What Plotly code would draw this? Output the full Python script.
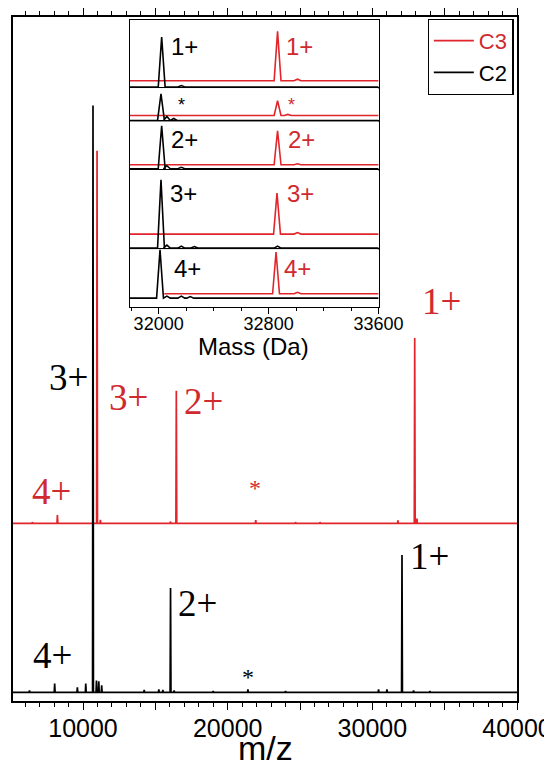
import plotly.graph_objects as go

RED = "#e0252b"
RED_TXT = "#d02a2f"
SANS = "Liberation Sans"
SERIF = "Liberation Serif"

# ---- main spectrum (relative intensity, C2 3+ peak = 100) ----
c2_mz = [6300, 8040, 9610, 10190, 10690, 10930, 11090, 11290, 14230, 15240,
         15520, 16050, 16300, 19000, 21400, 24000, 30430, 31010, 32050, 32850, 33980]
c2_int = [0.3, 1.5, 0.85, 1.5, 100, 2.0, 1.9, 1.2, 0.4, 0.5,
          0.4, 17.8, 0.3, 0.2, 0.5, 0.2, 0.5, 0.5, 23.4, 0.3, 0.2]

c3_mz = [6500, 8230, 10970, 11200, 16050, 16450, 21940, 24700, 26380, 31770, 32930, 33080]
c3_int = [0.2, 1.4, 63.5, 0.6, 0.3, 22.6, 0.56, 0.2, 0.2, 0.5, 31.6, 0.8]
c3_offset = 28.8

mz_range = [5160, 40000]
y_range = [-1.48, 115.1]

# ---- inset: deconvoluted mass, one panel per charge state (top to bottom) ----
panel_names = ["1+", "*", "2+", "3+", "4+"]
c2_mass = [[32022, 32165],
           [32017, 32060, 32110],
           [32022, 32060, 32165],
           [32017, 32060, 32165, 32260, 32865],
           [32010, 32060, 32165, 32230]]
c2_mass_int = [[50, 1.5],
               [26.7, 4, 2],
               [43, 3, 1.5],
               [68.3, 3, 2, 1.5, 2],
               [48.3, 2, 2, 1.5]]
c3_mass = [[32865, 33010],
           [32865, 32940],
           [32865, 33010],
           [32861, 33010],
           [32854, 33010]]
c3_mass_int = [[49.3, 1.5],
               [14.7, 1],
               [34, 1],
               [41, 1.5],
               [41.7, 1.5]]
c3_mass_offset = [6.3, 5, 4, 14, 4.3]
c3_mass_start = [31790, 31790, 31790, 31790, 32041]
panel_yrange = [[-1, 67.3], [-1, 32.4], [-1, 47.3], [-1, 78.3], [-8.4, 49]]
mass_range = [31790, 33600]


def stick_line(mz, inten, offset, xmin, xmax, half):
    xs, ys = [xmin], [offset]
    for m, h in sorted(zip(mz, inten)):
        xs += [m - half, m, m + half]
        ys += [offset, offset + h, offset]
    xs.append(xmax)
    ys.append(offset)
    return xs, ys


fig = go.Figure()

x, y = stick_line(c3_mz, c3_int, c3_offset, *mz_range, 30)
fig.add_trace(go.Scatter(x=x, y=y, mode="lines", line=dict(color=RED, width=1.7),
                         name="<span style='color:%s'>C3</span>" % RED_TXT))
x, y = stick_line(c2_mz, c2_int, 0, *mz_range, 30)
fig.add_trace(go.Scatter(x=x, y=y, mode="lines", line=dict(color="black", width=1.7),
                         name="C2"))

# panel boundaries in pixels from top of the page -> paper fractions
plot_top, plot_bot = 17.3, 701
edges = [20, 88.3, 121.7, 170, 249.3, 306.7]
frac = [(plot_bot - e) / (plot_bot - plot_top) for e in edges]
inset_x = [0.2317, 0.7254]

for i in range(5):
    k = i + 2
    x, y = stick_line(c3_mass[i], c3_mass_int[i], c3_mass_offset[i],
                      c3_mass_start[i], mass_range[1], 25)
    fig.add_trace(go.Scatter(x=x, y=y, mode="lines", line=dict(color=RED, width=1.6),
                             xaxis="x%d" % k, yaxis="y%d" % k, showlegend=False))
    x, y = stick_line(c2_mass[i], c2_mass_int[i], 0, *mass_range, 25)
    fig.add_trace(go.Scatter(x=x, y=y, mode="lines", line=dict(color="black", width=1.6),
                             xaxis="x%d" % k, yaxis="y%d" % k, showlegend=False))

axis_common = dict(showgrid=False, zeroline=False, showline=True, linecolor="black",
                   automargin=False)

# the page body adds an 8px margin, so the figure is 8px smaller and shifted
fig.update_layout(
    width=544, height=755,
    margin=dict(l=5, r=35, t=9, b=62),
    paper_bgcolor="white", plot_bgcolor="white",
    showlegend=True,
    legend=dict(x=0.8227, y=0.9975, xanchor="left", yanchor="top",
                bgcolor="white", bordercolor="black", borderwidth=1.2,
                font=dict(family=SANS, size=22, color="black"),
                tracegroupgap=0, itemwidth=40),
    xaxis=dict(**axis_common, range=mz_range, linewidth=2, mirror="ticks",
               tickmode="linear", tick0=0, dtick=5000, tickformat="d",
               labelalias={"15000": "", "25000": "", "35000": ""},
               ticks="outside", ticklen=7, tickwidth=1.3, tickcolor="black",
               ticklabelstandoff=-3,
               minor=dict(tickmode="linear", tick0=0, dtick=1000, ticks="outside",
                          ticklen=4, tickwidth=1.2, tickcolor="black"),
               tickfont=dict(family=SANS, size=25, color="black")),
    yaxis=dict(**axis_common, range=y_range, linewidth=2, mirror=True,
               showticklabels=False, ticks=""),
)

for i in range(5):
    k = i + 2
    bottom = (i == 4)
    xa = dict(**axis_common, domain=inset_x, range=mass_range, anchor="y%d" % k,
              linewidth=1.4, mirror=True, showticklabels=bottom,
              ticks="outside" if bottom else "")
    if bottom:
        xa.update(tickmode="linear", tick0=32000, dtick=800, tickformat="d",
                  ticklen=6, tickwidth=1.1, tickcolor="black", ticklabelstandoff=-5,
                  minor=dict(tickmode="linear", tick0=32000, dtick=200, ticks="outside",
                             ticklen=3, tickwidth=1, tickcolor="black"),
                  tickfont=dict(family=SANS, size=18, color="black"))
    ya = dict(**axis_common, domain=[frac[i + 1], frac[i]], range=panel_yrange[i],
              anchor="x%d" % k, linewidth=1.4, mirror=True, showticklabels=False, ticks="")
    fig.update_layout(**{"xaxis%d" % k: xa, "yaxis%d" % k: ya})

# ---- labels on the main spectrum ----
main_labels = [
    ("3+", 10460, 53.6, "right", "black", 37),
    ("4+", 6431, 6.2, "left", "black", 37),
    ("2+", 16412, 15.1, "left", "black", 37),
    ("1+", 32494, 23.2, "left", "black", 37),
    ("*", 21392, 2.6, "center", "black", 24),
    ("3+", 11640, 50.2, "left", RED_TXT, 37),
    ("4+", 6362, 34.2, "left", RED_TXT, 37),
    ("2+", 16826, 49.5, "left", RED_TXT, 37),
    ("1+", 33290, 66.6, "left", RED_TXT, 37),
    ("*", 21870, 34.8, "center", RED_TXT, 24),
]
for text, xv, yv, anc, col, size in main_labels:
    fig.add_annotation(x=xv, y=yv, xref="x", yref="y", text=text, showarrow=False,
                       xanchor=anc, yanchor="middle",
                       font=dict(family=SERIF, size=size, color=col))

# ---- labels in the inset panels ----
inset_labels = [
    (0, "1+", 32078, 32914, 40.6),
    (1, "*", 32125, 32925, 15.5),
    (2, "2+", 32078, 32929, 29),
    (3, "3+", 32071, 32921, 55),
    (4, "4+", 32097, 32900, 30),
]
for i, text, xb, xr, yv in inset_labels:
    k = i + 2
    size = 18 if text == "*" else 24
    for xv, col in ((xb, "black"), (xr, RED_TXT)):
        fig.add_annotation(x=xv, y=yv, xref="x%d" % k, yref="y%d" % k, text=text,
                           showarrow=False, xanchor="left", yanchor="middle",
                           font=dict(family=SANS, size=size, color=col))

# axis titles
fig.add_annotation(x=0.5, y=-0.0685, xref="paper", yref="paper", text="m/z",
                   showarrow=False, xanchor="center", yanchor="middle",
                   font=dict(family=SANS, size=34, color="black"))
fig.add_annotation(x=0.4779, y=0.5178, xref="paper", yref="paper", text="Mass (Da)",
                   showarrow=False, xanchor="center", yanchor="middle",
                   font=dict(family=SANS, size=24, color="black"))

fig.write_html("out.html")
